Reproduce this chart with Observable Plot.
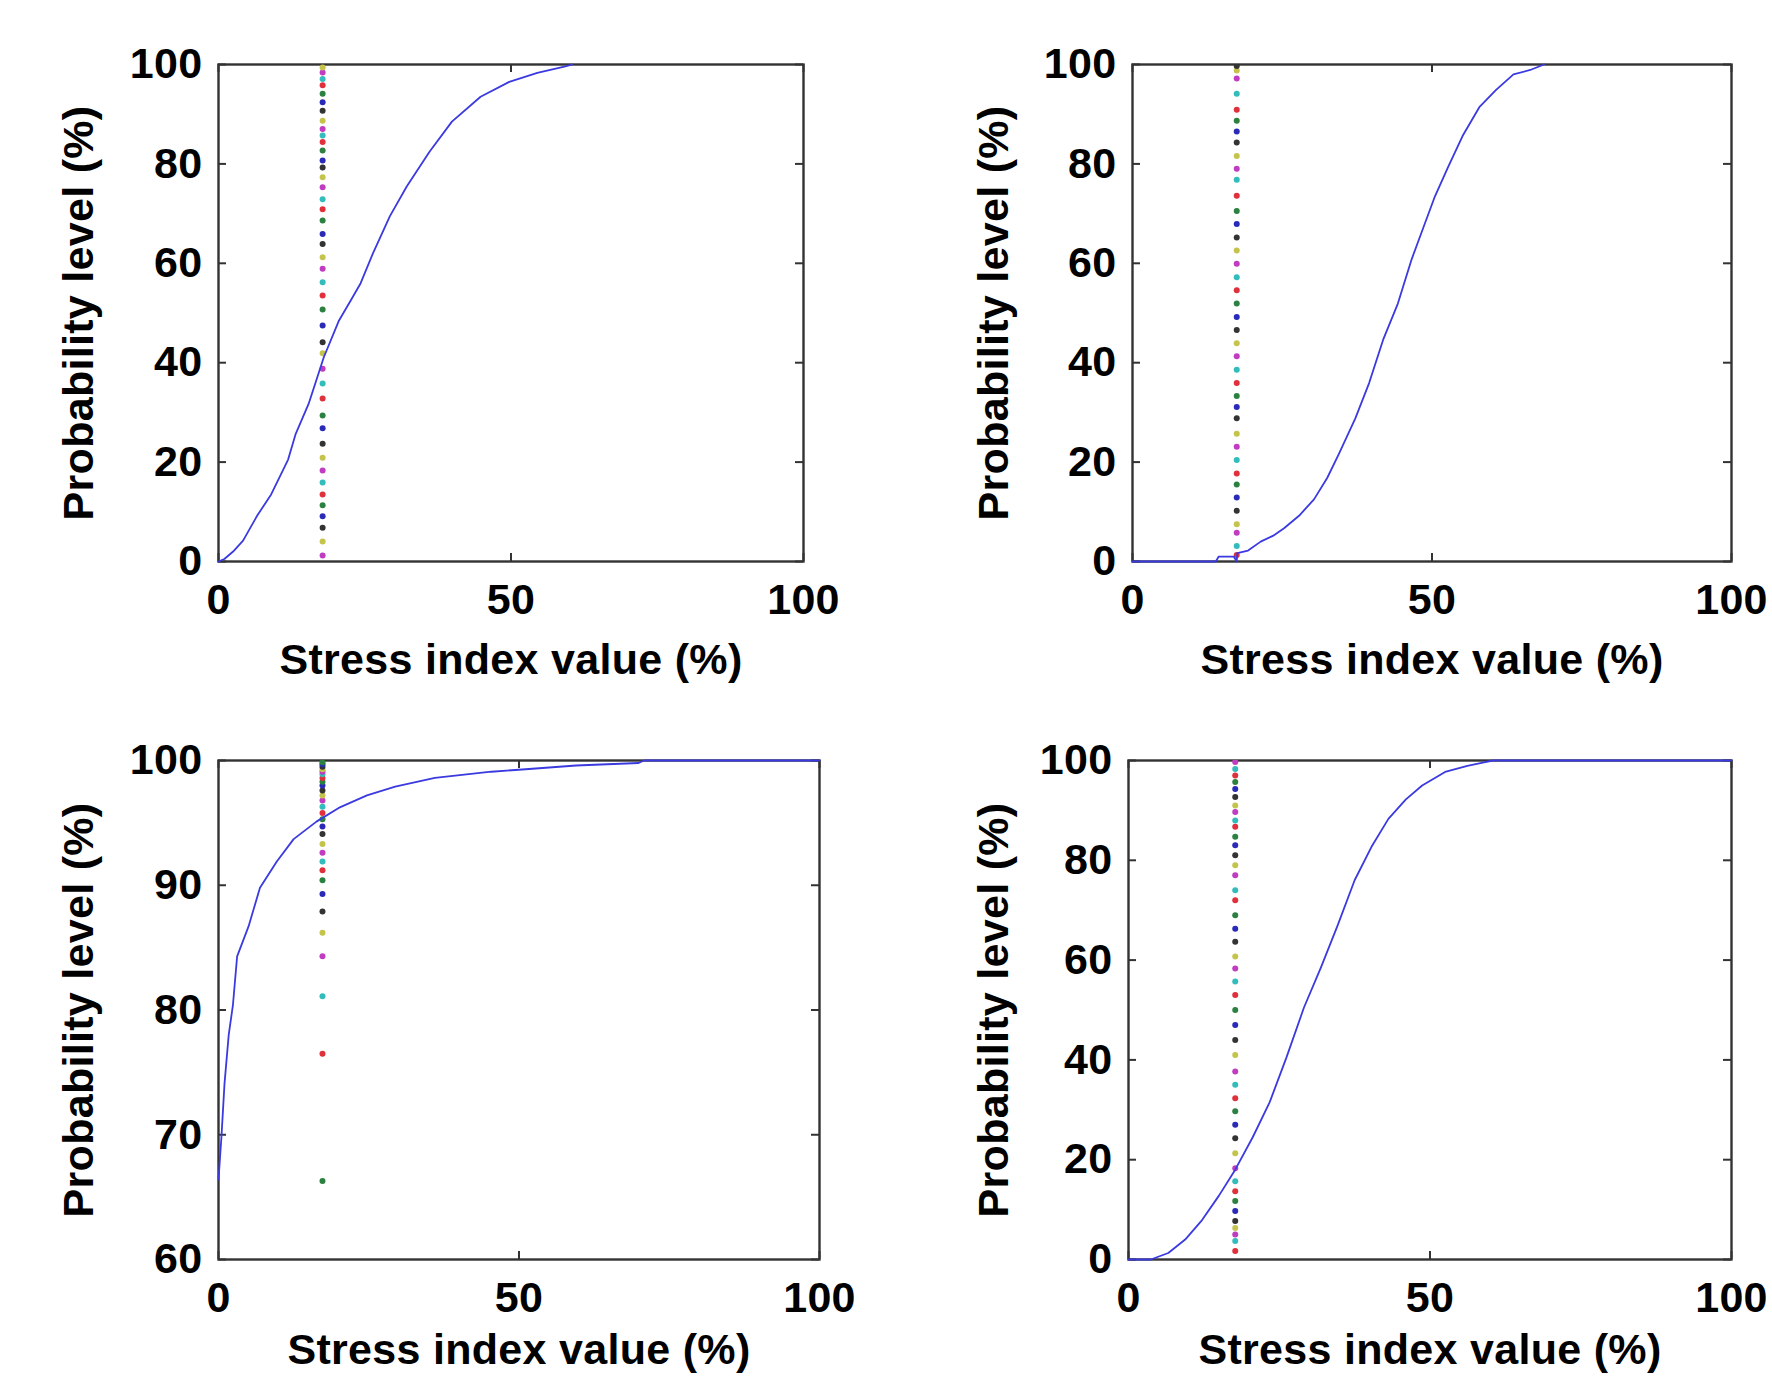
<!DOCTYPE html>
<html>
<head>
<meta charset="utf-8">
<script src="https://cdn.jsdelivr.net/npm/d3@7"></script>
<script src="https://cdn.jsdelivr.net/npm/@observablehq/plot@0.6"></script>
<style>
html, body { margin: 0; padding: 0; background: #fff; }
#wrap { position: relative; width: 1772px; height: 1376px; overflow: hidden; background: #fff; }
#wrap > svg { position: absolute; max-width: none; }
</style>
</head>
<body>
<div id="wrap"></div>
<script>
// ---------- DATA ----------
const xTicks = [0, 50, 100];
const yTicksFull = [0, 20, 40, 60, 80, 100];
const yTicksZoom = [60, 70, 80, 90, 100];
const xDomain = [0, 100];
const yDomainFull = [0, 100];
const yDomainZoom = [60, 100];
const xLabel = "Stress index value (%)";
const yLabel = "Probability level (%)";

// threshold (x position of the coloured dot column) for each panel
const thresholdX = [17.8, 17.4, 17.3, 17.7];

// cumulative curves
const p1CurveX = [0, 1, 2.5, 4.2, 6.6, 9, 11.9, 13.2, 15.4, 18, 20.6, 22.6, 24.3, 26.4, 29.3, 32.2, 36.1, 39.9, 44.8, 49.7, 54.5, 59.3, 60.5];
const p1CurveY = [0, 0.5, 2, 4.2, 9.2, 13.5, 20.5, 25.7, 31.7, 41.1, 48.5, 52.5, 56, 62, 69.5, 75.5, 82.5, 88.5, 93.5, 96.5, 98.3, 99.6, 100];

const p2CurveX = [0, 13.9, 14.4, 16.9, 17.4, 17.5, 19.3, 21.4, 23.5, 25.3, 27.8, 30.3, 32.5, 34.4, 37.2, 39.5, 41.9, 44.3, 46.6, 48.5, 50.4, 52.7, 55.1, 57.9, 60.7, 63.6, 66.4, 68.7];
const p2CurveY = [0, 0, 1, 1, 0, 1.7, 2.2, 4, 5.2, 6.7, 9.2, 12.5, 16.8, 21.5, 28.8, 35.9, 44.8, 51.9, 60.8, 67, 73.2, 79.4, 85.6, 91.4, 94.9, 98, 98.9, 100];

const p3CurveX = [0, 0.5, 1.0, 1.7, 2.4, 3.1, 5, 6.9, 9.7, 12.5, 16.3, 20, 24.7, 29.4, 36, 45.4, 51.1, 59.5, 69.9, 70.8, 100];
const p3CurveY = [66.4, 69.9, 74.1, 78, 80.4, 84.3, 86.7, 89.8, 91.9, 93.7, 95.1, 96.2, 97.2, 97.9, 98.6, 99.1, 99.3, 99.6, 99.8, 100, 100];

const p4CurveX = [0, 3.7, 6.6, 9.4, 12.2, 15, 17.7, 20.6, 23.4, 26.2, 29.1, 31.9, 34.7, 37.5, 40.3, 43.1, 46, 48.7, 52.5, 56.2, 60.4, 100];
const p4CurveY = [0, 0, 1.3, 4, 7.9, 12.8, 18, 24.5, 31.5, 40.5, 50.5, 58.5, 67, 76, 82.7, 88.3, 92.2, 95, 97.7, 98.9, 100, 100];

// probability levels of the coloured dots (ascending)
const p1Dots = [1.2, 4.0, 6.8, 9.1, 11.3, 13.5, 15.9, 18.3, 20.9, 23.7, 26.8, 29.4, 32.8, 35.8, 38.8, 41.9, 44.1, 47.5, 50.7, 53.5, 56.2, 58.9, 61.2, 63.9, 65.9, 68.6, 70.9, 72.9, 75.3, 77.3, 79.3, 80.7, 82.7, 84.4, 85.7, 87.0, 88.7, 90.7, 92.4, 94.1, 95.8, 97.1, 98.4, 99.4];
const p2Dots = [1.3, 3.1, 5.8, 7.5, 10.2, 12.9, 15.5, 17.7, 20.4, 23.1, 25.7, 28.8, 31.1, 33.3, 35.9, 38.6, 41.3, 43.9, 46.6, 49.2, 51.9, 54.6, 57.2, 59.9, 62.6, 65.2, 67.9, 70.5, 73.6, 76.8, 79.0, 81.6, 84.3, 86.5, 88.7, 90.9, 94.1, 97.2, 98.8, 99.7];
const p3Dots = [66.3, 76.5, 81.1, 84.3, 86.2, 87.9, 89.3, 90.4, 91.2, 91.9, 92.6, 93.3, 94.1, 94.7, 95.3, 95.8, 96.3, 96.8, 97.2, 97.6, 98.0, 98.3, 98.6, 98.9, 99.1, 99.3, 99.5, 99.7, 99.85];
const p4Dots = [1.7, 3.7, 5.0, 6.3, 7.7, 9.7, 11.7, 13.7, 15.7, 18.3, 21.3, 24.3, 27, 29.7, 32.3, 35, 37.7, 41, 44, 47, 50, 53, 55.7, 58.3, 60.7, 63.7, 66.3, 69, 72, 74, 77, 79, 81, 83, 84.7, 86.7, 88, 89.7, 91, 92.7, 94.3, 95.7, 97, 98.3, 99.7];
// index in the colour cycle of the first dot of each panel
const dotCycleStart = [4, 2, 1, 2];

// ---------- STYLE / LAYOUT ----------
const colorCycle = ["#2a2ab8", "#2c8040", "#e0303c", "#33bcbc", "#c03cc0", "#c4c44c", "#333333"];
const lineColor = "#3a3ae0";
const axisColor = "#333";
const fontFamily = "'Liberation Sans', Arial, Helvetica, sans-serif";
const fontSize = 43;

const layout = [
  {left: 0,   top: 0,   width: 886, height: 688, mL: 218, mR: 83, mT: 64, mB: 127, yLabelDx: -139, xLabelDy: 99},
  {left: 886, top: 0,   width: 886, height: 688, mL: 246, mR: 41, mT: 64, mB: 127, yLabelDx: -138, xLabelDy: 99},
  {left: 0,   top: 688, width: 886, height: 688, mL: 218, mR: 67, mT: 72, mB: 117, yLabelDx: -139, xLabelDy: 91},
  {left: 886, top: 688, width: 886, height: 688, mL: 242, mR: 41, mT: 72, mB: 117, yLabelDx: -134, xLabelDy: 91}
];

const panels = [
  {cx: p1CurveX, cy: p1CurveY, dots: p1Dots, yDomain: yDomainFull, yTicks: yTicksFull},
  {cx: p2CurveX, cy: p2CurveY, dots: p2Dots, yDomain: yDomainFull, yTicks: yTicksFull},
  {cx: p3CurveX, cy: p3CurveY, dots: p3Dots, yDomain: yDomainZoom, yTicks: yTicksZoom},
  {cx: p4CurveX, cy: p4CurveY, dots: p4Dots, yDomain: yDomainFull, yTicks: yTicksFull}
];

const wrap = document.getElementById("wrap");

panels.forEach((p, i) => {
  const L = layout[i];
  const frameW = L.width - L.mL - L.mR;
  const frameH = L.height - L.mT - L.mB;
  const curve = p.cx.map((x, k) => ({x, y: p.cy[k]}));
  const dots = p.dots.map((y, k) => ({x: thresholdX[i], y, c: colorCycle[(k + dotCycleStart[i]) % colorCycle.length]}));
  const tickLen = 8;
  const txt = {fontSize, fontWeight: "bold", fontFamily, fill: "#000"};

  const svg = Plot.plot({
    width: L.width,
    height: L.height,
    marginLeft: L.mL,
    marginRight: L.mR,
    marginTop: L.mT,
    marginBottom: L.mB,
    style: {fontFamily, fontSize: fontSize + "px", fontWeight: "bold", letterSpacing: "0.3px", background: "transparent", color: "#000"},
    x: {domain: xDomain},
    y: {domain: p.yDomain},
    marks: [
      // inward ticks (MATLAB style) on all four sides
      Plot.tickX(xTicks, {x: d => d, insetTop: frameH - tickLen, stroke: axisColor, strokeWidth: 2}),
      Plot.tickX(xTicks, {x: d => d, insetBottom: frameH - tickLen, stroke: axisColor, strokeWidth: 2}),
      Plot.tickY(p.yTicks, {y: d => d, insetRight: frameW - tickLen, stroke: axisColor, strokeWidth: 2}),
      Plot.tickY(p.yTicks, {y: d => d, insetLeft: frameW - tickLen, stroke: axisColor, strokeWidth: 2}),
      Plot.frame({stroke: axisColor, strokeWidth: 2.4}),
      Plot.dot(dots, {x: "x", y: "y", fill: "c", r: 3, clip: true}),
      Plot.line(curve, {x: "x", y: "y", stroke: lineColor, strokeWidth: 1.8}),
      Plot.axisX(xTicks, {tickSize: 0, tickPadding: 22, label: null, ...txt}),
      Plot.axisY(p.yTicks, {tickSize: 0, tickPadding: 16, label: null, ...txt}),
      Plot.text([xLabel], {text: d => d, frameAnchor: "bottom", lineAnchor: "middle", dy: L.xLabelDy, textAnchor: "middle", ...txt}),
      Plot.text([yLabel], {text: d => d, frameAnchor: "left", lineAnchor: "middle", rotate: -90, dx: L.yLabelDx, textAnchor: "middle", ...txt})
    ]
  });
  svg.style.left = L.left + "px";
  svg.style.top = L.top + "px";
  wrap.appendChild(svg);
});
</script>
</body>
</html>
